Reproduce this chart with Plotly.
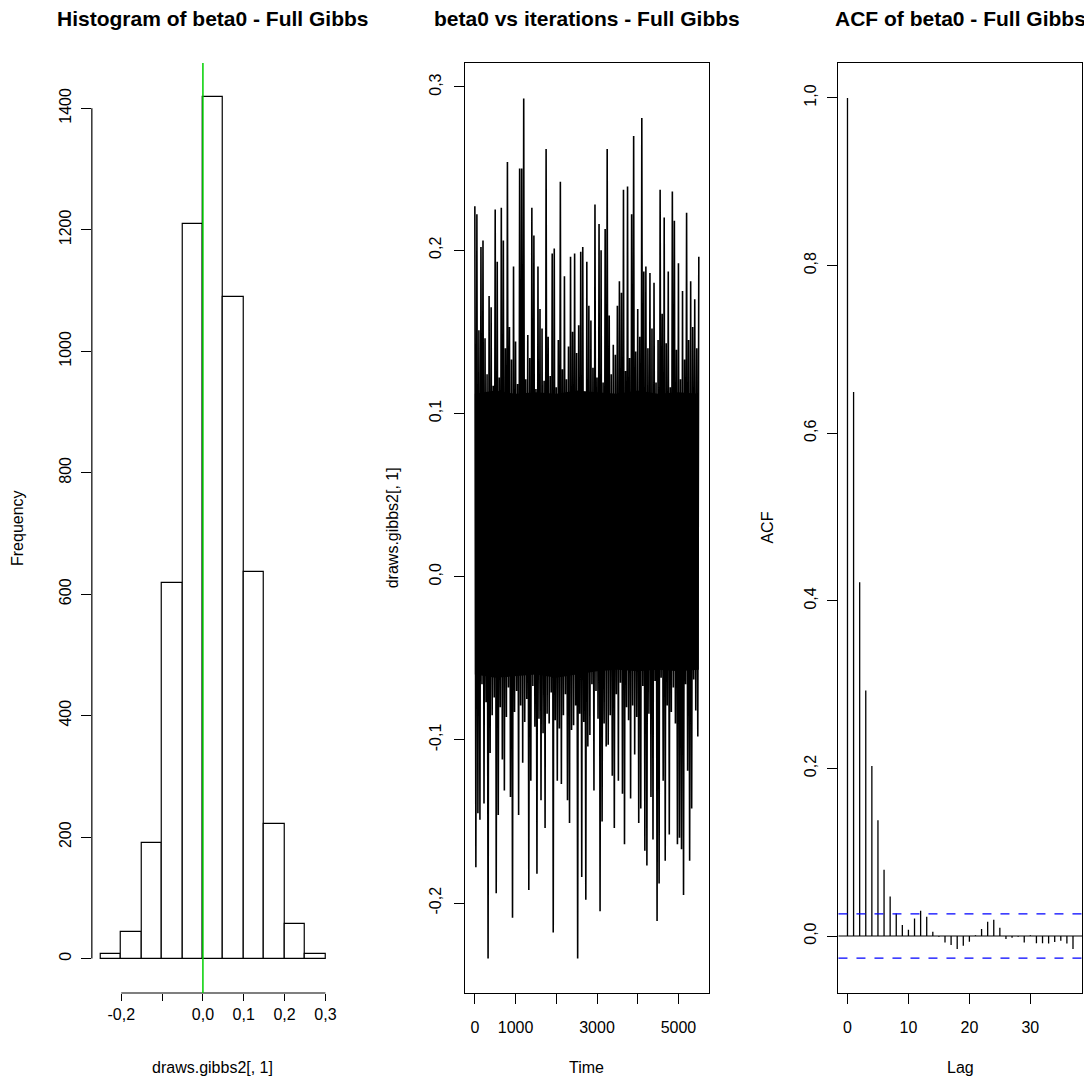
import plotly.graph_objects as go

# ---------------- data ----------------
# Histogram of beta0 (bin edges and counts)
hist_breaks = [-0.25, -0.20, -0.15, -0.10, -0.05, 0.00, 0.05, 0.10, 0.15, 0.20, 0.25, 0.30]
hist_counts = [8, 43, 190, 618, 1210, 1418, 1090, 637, 222, 57, 8]

# Trace: per-step upper / lower extremes (step 50 / offset 25)
band_hi = [0.142, 0.128, 0.151, 0.119, 0.137, 0.146, 0.124, 0.158, 0.131, 0.117,
           0.149, 0.135, 0.122, 0.161, 0.127, 0.140, 0.113, 0.153, 0.133, 0.125,
           0.144, 0.118, 0.156, 0.130, 0.139, 0.121, 0.148, 0.134, 0.126, 0.162,
           0.115, 0.143, 0.129, 0.152, 0.120, 0.138, 0.147, 0.123, 0.155, 0.132,
           0.116, 0.145, 0.136, 0.127, 0.159, 0.121, 0.141, 0.130, 0.150, 0.118,
           0.137, 0.154, 0.125, 0.143, 0.112, 0.148, 0.133, 0.157, 0.128, 0.139,
           0.122, 0.151, 0.135, 0.119, 0.146, 0.131, 0.160, 0.124, 0.142, 0.136,
           0.117, 0.153, 0.129, 0.144, 0.126, 0.158, 0.134, 0.120, 0.149, 0.138,
           0.114, 0.147, 0.132, 0.155, 0.123, 0.140, 0.128, 0.152, 0.137, 0.119,
           0.145, 0.130, 0.161, 0.125, 0.143, 0.134, 0.116, 0.150, 0.127, 0.139,
           0.148, 0.121, 0.156, 0.133, 0.124, 0.145, 0.131, 0.153, 0.118, 0.140, 0.135]
band_lo = [-0.082, -0.071, -0.094, -0.066, -0.088, -0.077, -0.099, -0.069, -0.085, -0.074,
           -0.091, -0.063, -0.080, -0.097, -0.072, -0.086, -0.068, -0.093, -0.076, -0.083,
           -0.070, -0.095, -0.079, -0.065, -0.089, -0.075, -0.098, -0.081, -0.067, -0.092,
           -0.073, -0.087, -0.078, -0.096, -0.064, -0.084, -0.090, -0.071, -0.082, -0.088,
           -0.069, -0.093, -0.077, -0.085, -0.072, -0.097, -0.080, -0.066, -0.091, -0.079,
           -0.062, -0.084, -0.071, -0.089, -0.058, -0.077, -0.093, -0.066, -0.081, -0.070,
           -0.087, -0.061, -0.078, -0.090, -0.068, -0.074, -0.085, -0.059, -0.080, -0.072,
           -0.092, -0.065, -0.076, -0.083, -0.060, -0.088, -0.069, -0.079, -0.063, -0.086,
           -0.073, -0.091, -0.067, -0.078, -0.057, -0.084, -0.070, -0.089, -0.064, -0.081,
           -0.075, -0.062, -0.087, -0.071, -0.079, -0.058, -0.083, -0.068, -0.090, -0.074,
           -0.061, -0.085, -0.072, -0.066, -0.080, -0.069, -0.076, -0.063, -0.082, -0.070]

# Solid core of the black band (read every 500 iterations)
core_time = [0, 500, 1000, 1500, 2000, 2500, 3000, 3500, 4000, 4500, 5000, 5500]
core_top = [0.112, 0.114, 0.112, 0.113, 0.112, 0.114, 0.113, 0.112, 0.114, 0.112, 0.113, 0.112]
core_bot = [-0.060, -0.062, -0.061, -0.060, -0.062, -0.060, -0.058, -0.057, -0.058, -0.057, -0.058, -0.057]

# Upward spikes (iteration, value)
spike_up_time = [7, 48, 154, 211, 334, 375, 497, 538, 661, 718, 807, 946, 1085, 1151, 1224,
                 1379, 1437, 1559, 1624, 1771, 1886, 1926, 2098, 2212, 2343, 2458, 2620, 2669,
                 2751, 2792, 2931, 3037, 3118, 3200, 3257, 3323, 3486, 3527, 3609, 3666, 3731,
                 3829, 3894, 3919, 3992, 4099, 4139, 4197, 4303, 4425, 4482, 4564, 4630, 4752,
                 4858, 4907, 4997, 5119, 5185, 5225, 5283, 5381, 5495]
spike_up_value = [0.227, 0.222, 0.202, 0.206, 0.172, 0.165, 0.225, 0.193, 0.226, 0.206, 0.254,
                  0.190, 0.250, 0.250, 0.293, 0.226, 0.209, 0.190, 0.164, 0.262, 0.198, 0.201,
                  0.242, 0.184, 0.196, 0.198, 0.199, 0.202, 0.193, 0.166, 0.228, 0.216, 0.200,
                  0.213, 0.262, 0.153, 0.166, 0.181, 0.174, 0.237, 0.239, 0.222, 0.240, 0.270,
                  0.164, 0.281, 0.187, 0.190, 0.186, 0.180, 0.135, 0.237, 0.220, 0.187, 0.236,
                  0.218, 0.192, 0.175, 0.196, 0.223, 0.181, 0.170, 0.196]
# Downward spikes (iteration, value)
spike_down_time = [7, 73, 146, 211, 334, 399, 538, 579, 661, 742, 865, 922, 1069, 1151, 1314,
                   1396, 1534, 1600, 1722, 1902, 2008, 2131, 2253, 2310, 2392, 2539, 2604, 2718,
                   2792, 2849, 2914, 3078, 3143, 3200, 3257, 3364, 3445, 3527, 3609, 3666, 3747,
                   3837, 3935, 4017, 4058, 4156, 4237, 4319, 4384, 4466, 4531, 4613, 4678, 4752,
                   4956, 5021, 5078, 5144, 5201, 5283, 5348, 5413, 5462]
spike_down_value = [-0.178, -0.145, -0.149, -0.139, -0.234, -0.108, -0.194, -0.146, -0.112,
                    -0.131, -0.135, -0.209, -0.146, -0.114, -0.192, -0.125, -0.182, -0.137,
                    -0.154, -0.218, -0.125, -0.127, -0.137, -0.151, -0.094, -0.234, -0.184,
                    -0.198, -0.104, -0.097, -0.131, -0.205, -0.150, -0.104, -0.103, -0.122,
                    -0.154, -0.125, -0.133, -0.164, -0.080, -0.136, -0.109, -0.151, -0.142,
                    -0.168, -0.177, -0.135, -0.161, -0.211, -0.188, -0.125, -0.174, -0.158,
                    -0.164, -0.160, -0.167, -0.195, -0.119, -0.174, -0.142, -0.079, -0.098]

# ACF by lag
acf_lags = list(range(0, 38))
acf_values = [1.000, 0.649, 0.422, 0.293, 0.203, 0.138, 0.079, 0.047, 0.027, 0.013,
              0.0075, 0.021, 0.030, 0.023, 0.005, -0.001, -0.0076, -0.0107, -0.0155, -0.0115,
              -0.0068, 0.001, 0.0083, 0.017, 0.0195, 0.010, -0.0036, -0.002, -0.001, -0.0076,
              0.001, -0.0087, -0.0087, -0.009, -0.007, -0.0056, -0.009, -0.0155]
acf_ci = 0.0264

# tick labels (decimal comma)
hist_xtick_vals = [-0.2, -0.1, 0.0, 0.1, 0.2, 0.3]
hist_xtick_text = ["-0,2", "", "0,0", "0,1", "0,2", "0,3"]
hist_ytick_vals = [0, 200, 400, 600, 800, 1000, 1200, 1400]
trace_xtick_vals = [0, 1000, 2000, 3000, 4000, 5000]
trace_xtick_text = ["0", "1000", "", "3000", "", "5000"]
trace_ytick_vals = [-0.2, -0.1, 0.0, 0.1, 0.2, 0.3]
trace_ytick_text = ["-0,2", "-0,1", "0,0", "0,1", "0,2", "0,3"]
acf_xtick_vals = [0, 10, 20, 30]
acf_ytick_vals = [0.0, 0.2, 0.4, 0.6, 0.8, 1.0]
acf_ytick_text = ["0,0", "0,2", "0,4", "0,6", "0,8", "1,0"]

# ---------------- build trace series ----------------
hi = list(band_hi)
lo = list(band_lo)
for t, v in zip(spike_up_time, spike_up_value):
    i = min(max(int(round(t / 50.0)), 0), len(hi) - 1)
    hi[i] = max(hi[i], v)
for t, v in zip(spike_down_time, spike_down_value):
    i = min(max(int(round((t - 25) / 50.0)), 0), len(lo) - 1)
    lo[i] = min(lo[i], v)
trace_t, trace_v = [], []
for i in range(len(hi)):
    trace_t.append(i * 50)
    trace_v.append(hi[i])
    if i < len(lo):
        trace_t.append(i * 50 + 25)
        trace_v.append(lo[i])

# ---------------- figure ----------------
OFF = 8  # browser body margin
W, H = 1092 - OFF, 1083 - OFF
FONT = "Liberation Sans, Arial, Helvetica, sans-serif"
TICKF = dict(family=FONT, size=16, color="black")


def xd(a, b):
    return [(a - OFF) / W, (b - OFF) / W]


def yd(top, bottom):
    return [(H - (bottom - OFF)) / H, (H - (top - OFF)) / H]


def px_x(p):
    return (p - OFF) / W


def px_y(p):
    return (H - (p - OFF)) / H


fig = go.Figure()

# Histogram
centers = [(hist_breaks[i] + hist_breaks[i + 1]) / 2 for i in range(len(hist_counts))]
widths = [hist_breaks[i + 1] - hist_breaks[i] for i in range(len(hist_counts))]
fig.add_trace(go.Bar(x=centers, y=hist_counts, width=widths,
                     marker=dict(color="white", line=dict(color="black", width=1.2)),
                     xaxis="x", yaxis="y", showlegend=False))

# Trace plot: solid core band + line
fig.add_trace(go.Scatter(x=core_time + core_time[::-1], y=core_top + core_bot[::-1], mode="lines",
                         fill="toself", fillcolor="black", line=dict(color="black", width=0),
                         xaxis="x2", yaxis="y2", showlegend=False, hoverinfo="skip"))
fig.add_trace(go.Scatter(x=trace_t, y=trace_v, mode="lines", line=dict(color="black", width=1.6),
                         xaxis="x2", yaxis="y2", showlegend=False))

# ACF
ax, ay = [], []
for k, v in zip(acf_lags, acf_values):
    ax += [k, k, None]
    ay += [0, v, None]
fig.add_trace(go.Scatter(x=ax, y=ay, mode="lines", line=dict(color="black", width=1.3),
                         xaxis="x3", yaxis="y3", showlegend=False))

common = dict(showgrid=False, zeroline=False, ticks="outside", tickwidth=1, tickcolor="black",
              tickfont=TICKF, tickmode="array")
ydom = yd(63, 993)
box = dict(showline=True, mirror=True, linecolor="black", linewidth=1.2)

fig.update_layout(
    width=W, height=H, margin=dict(l=0, r=0, t=0, b=0),
    paper_bgcolor="white", plot_bgcolor="white", bargap=0,
    xaxis=dict(domain=xd(92, 335), range=[-0.272, 0.322], anchor="y", showline=False, ticklen=7,
               tickvals=hist_xtick_vals, ticktext=hist_xtick_text, ticklabelstandoff=0, **common),
    yaxis=dict(domain=ydom, range=[-56.7, 1474.7], anchor="x", showline=False, ticklen=10,
               tickvals=hist_ytick_vals, ticktext=[str(v) for v in hist_ytick_vals], tickangle=-90,
               ticklabelstandoff=3, **common),
    xaxis2=dict(domain=xd(466, 710), range=[-238, 5743], anchor="y2", ticklen=10,
                tickvals=trace_xtick_vals, ticktext=trace_xtick_text, ticklabelstandoff=10, **box, **common),
    yaxis2=dict(domain=ydom, range=[-0.2551, 0.3147], anchor="x2", ticklen=10,
                tickvals=trace_ytick_vals, ticktext=trace_ytick_text, tickangle=-90, ticklabelstandoff=7,
                **box, **common),
    xaxis3=dict(domain=xd(840, 1084), range=[-1.48, 38.48], anchor="y3", ticklen=10,
                tickvals=acf_xtick_vals, ticktext=[str(v) for v in acf_xtick_vals], ticklabelstandoff=10,
                **box, **common),
    yaxis3=dict(domain=ydom, range=[-0.068, 1.0417], anchor="x3", ticklen=10,
                tickvals=acf_ytick_vals, ticktext=acf_ytick_text, tickangle=-90, ticklabelstandoff=5,
                **box, **common),
)

shapes = [
    # hist axes lines (R style: only between extreme ticks)
    dict(type="line", xref="x", yref="y domain", x0=hist_xtick_vals[0], x1=hist_xtick_vals[-1], y0=0, y1=0,
         line=dict(color="black", width=1.2)),
    dict(type="line", xref="x domain", yref="y", x0=0, x1=0, y0=hist_ytick_vals[0], y1=hist_ytick_vals[-1],
         line=dict(color="black", width=1.2)),
    # green vertical line at 0
    dict(type="line", xref="x", yref="y domain", x0=0, x1=0, y0=0, y1=1, line=dict(color="#00D000", width=1.5)),
    # ACF zero line and confidence bounds
    dict(type="line", xref="x3 domain", yref="y3", x0=0, x1=1, y0=0, y1=0, line=dict(color="black", width=1.2)),
    dict(type="line", xref="x3 domain", yref="y3", x0=0, x1=1, y0=acf_ci, y1=acf_ci,
         line=dict(color="#0000FF", width=1.3, dash="dash")),
    dict(type="line", xref="x3 domain", yref="y3", x0=0, x1=1, y0=-acf_ci, y1=-acf_ci,
         line=dict(color="#0000FF", width=1.3, dash="dash")),
]
fig.update_layout(shapes=shapes)

ann = []
titles = [("Histogram of beta0 - Full Gibbs", 213), ("beta0 vs iterations - Full Gibbs", 588),
          ("ACF of beta0 - Full Gibbs", 962)]
for txt, cx in titles:
    ann.append(dict(text="<b>%s</b>" % txt, x=px_x(cx), y=px_y(19), xref="paper", yref="paper",
                    xanchor="center", yanchor="middle", showarrow=False,
                    font=dict(family=FONT, size=21, color="black")))
xlabels = [("draws.gibbs2[, 1]", 213), ("Time", 588), ("Lag", 962)]
for txt, cx in xlabels:
    ann.append(dict(text=txt, x=px_x(cx), y=px_y(1067), xref="paper", yref="paper",
                    xanchor="center", yanchor="middle", showarrow=False,
                    font=dict(family=FONT, size=16, color="black")))
ylabels = [("Frequency", 17), ("draws.gibbs2[, 1]", 393), ("ACF", 768)]
for txt, cx in ylabels:
    ann.append(dict(text=txt, x=px_x(cx), y=px_y(528), xref="paper", yref="paper", textangle=-90,
                    xanchor="center", yanchor="middle", showarrow=False,
                    font=dict(family=FONT, size=16, color="black")))
fig.update_layout(annotations=ann)

fig.write_html("out.html")
